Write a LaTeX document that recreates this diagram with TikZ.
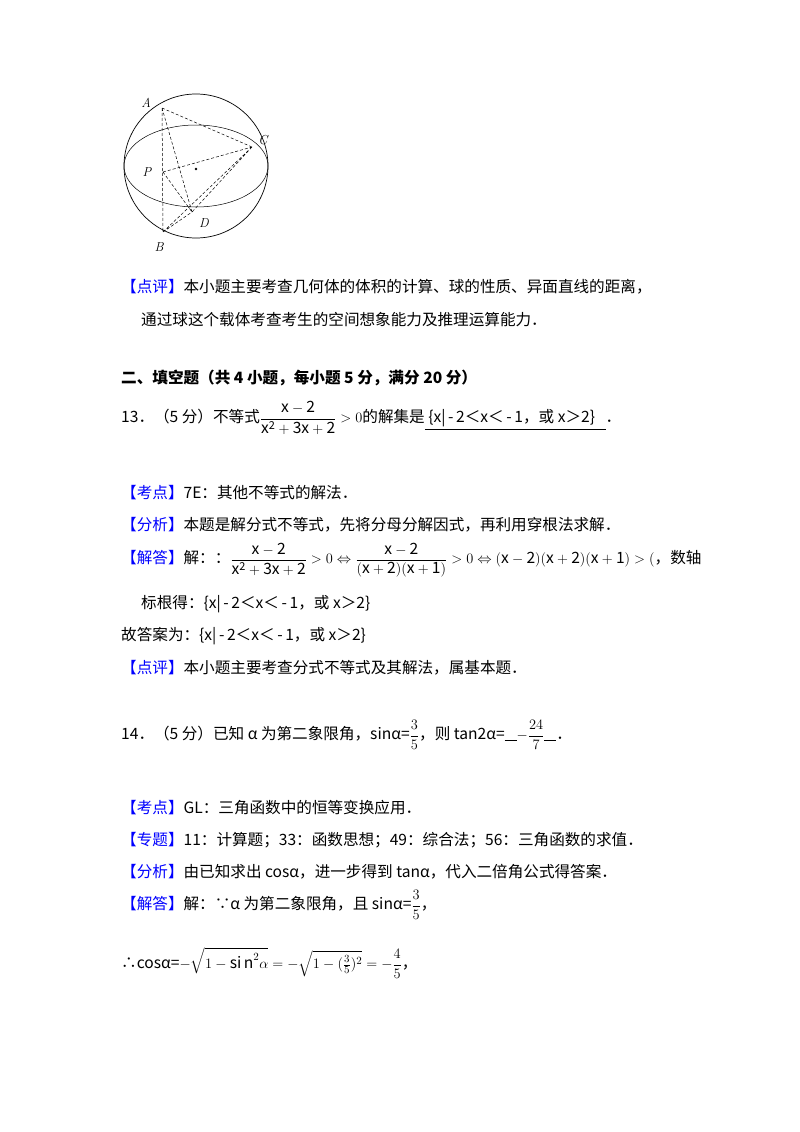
\documentclass[tikz,border=0pt]{standalone}
\usepackage{fontspec}
\usepackage{amsmath}
\setmainfont{Noto Sans CJK SC}
\newfontfamily\lmr{Latin Modern Roman}
\newcommand{\lb}[1]{\textcolor{blue}{【#1】}}
\begin{document}
\begin{tikzpicture}[x=1pt,y=-1pt,
  txt/.style={anchor=west,inner sep=0pt,font=\fontsize{15.6}{18}\selectfont},
  dsh/.style={densely dashed,line width=0.5pt},
  pl/.style={font=\fontsize{13}{15}\selectfont\lmr\itshape,inner sep=0pt}]
\useasboundingbox[fill=white] (0,0) rectangle (800,1132);
% figure
\draw[line width=0.7pt] (196,166) circle[radius=72];
\draw[line width=0.5pt] (196,166) ellipse[x radius=72,y radius=41];
\coordinate (A) at (162,108); \coordinate (C) at (252,147);
\coordinate (P) at (163,172); \coordinate (D) at (192,212);
\coordinate (B) at (163,232); \coordinate (O) at (196,169);
\fill (O) circle[radius=1.3];
\draw[dsh] (A)--(C) (A)--(B) (A)--(D) (P)--(C) (P)--(D) (C)--(D) (C)--(B) (B)--(D);
\node[pl] (lA) at (146,103) {A};
\node[pl] (lC) at (263,140) {C};
\node[pl] (lP) at (147,172) {P};
\node[pl] (lD) at (204,223) {D};
\node[pl] (lB) at (159,247) {B};
% text
\node[txt] (t1) at (121,287) {\lb{点评}本小题主要考查几何体的体积的计算、球的性质、异面直线的距离，};
\node[txt] (t2) at (141,320) {通过球这个载体考查考生的空间想象能力及推理运算能力．};
\node[txt,font=\fontsize{15.6}{18}\selectfont\bfseries] (t3) at (121,378) {二、填空题（共 4 小题，每小题 5 分，满分 20 分）};
\node[txt] (t4) at (121,418) {13．（5 分）不等式$\dfrac{\mathrm{x-2}}{\mathrm{x^2+3x+2}}>0$的解集是\underline{\ \{x|\,-\,2＜x＜\,-\,1，或 x＞2\}\ \ \ }．};
\node[txt] (t5) at (121,493) {\lb{考点}7E：其他不等式的解法．};
\node[txt] (t6) at (121,525) {\lb{分析}本题是解分式不等式，先将分母分解因式，再利用穿根法求解．};
\node[txt] (t7) at (121,560) {\lb{解答}解：：$\dfrac{\mathrm{x-2}}{\mathrm{x^2+3x+2}}>0\Leftrightarrow\dfrac{\mathrm{x-2}}{\mathrm{(x+2)(x+1)}}>0\Leftrightarrow\mathrm{(x-2)(x+2)(x+1)}>($，数轴};
\node[txt] (t8) at (141,604) {标根得：\{x|\,-\,2＜x＜\,-\,1，或 x＞2\}};
\node[txt] (t9) at (121,636) {故答案为：\{x|\,-\,2＜x＜\,-\,1，或 x＞2\}};
\node[txt] (t10) at (121,668) {\lb{点评}本小题主要考查分式不等式及其解法，属基本题．};
\node[txt] (t11) at (121,735) {14．（5 分）已知 α 为第二象限角，sinα=$\dfrac{3}{5}$，则 tan2α=\rule[-1pt]{12pt}{0.6pt}$-\dfrac{24}{7}$\rule[-1pt]{12pt}{0.6pt}．};
\node[txt] (t12) at (121,808) {\lb{考点}GL：三角函数中的恒等变换应用．};
\node[txt] (t13) at (121,840) {\lb{专题}11：计算题；33：函数思想；49：综合法；56：三角函数的求值．};
\node[txt] (t14) at (121,872) {\lb{分析}由已知求出 cosα，进一步得到 tanα，代入二倍角公式得答案．};
\node[txt] (t15) at (121,905) {\lb{解答}解：∵α 为第二象限角，且 sinα=$\dfrac{3}{5}$，};
\node[txt] (t16) at (121,963) {∴cosα=$-\sqrt{1-\mathrm{si\,n}^2\alpha}=-\sqrt{1-(\tfrac{3}{5})^2}=-\dfrac{4}{5}$，};
\end{tikzpicture}
\end{document}
